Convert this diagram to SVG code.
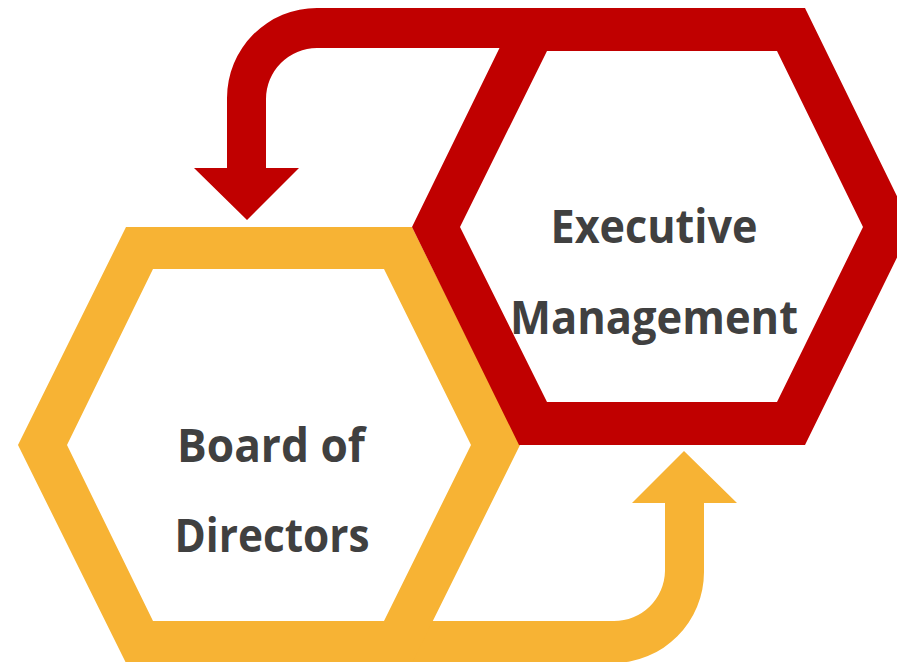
<svg xmlns="http://www.w3.org/2000/svg" width="897" height="662" viewBox="0 0 897 662">
<style>
.red{fill:#C00000}
.yel{fill:#F7B334}
.lbl{font-family:"Open Sans","Noto Sans",sans-serif;font-weight:700;font-size:46px;fill:#404040;text-anchor:middle}
</style>
<rect width="897" height="662" fill="#FFFFFF"/>
<g id="connectors">
<path id="arrow-to-board" class="red" d="M 521 8 L 317 8 A 90 90 0 0 0 227 98 L 227 168 L 194 168 L 247 220 L 299 168 L 266 168 L 266 99 A 51 51 0 0 1 317 48 L 502 48 Z"/>
<path id="arrow-to-exec" class="yel" d="M 410 663 L 613 663 A 91 91 0 0 0 704 572 L 704 503 L 737 503 L 684 451 L 632 503 L 665 503 L 665 571 A 51 51 0 0 1 614 621 L 430 621 Z"/>
</g>
<g id="board">
<path class="yel" fill-rule="evenodd" d="M 18 445 L 126 227 L 412 227 L 520 445 L 412 663 L 126 663 Z M 67 445 L 153 269 L 384 269 L 471 445 L 384 621 L 153 621 Z"/>
<text class="lbl" x="271" y="462" textLength="188" lengthAdjust="spacingAndGlyphs">Board of</text>
<text class="lbl" x="272" y="552" textLength="195" lengthAdjust="spacingAndGlyphs">Directors</text>
</g>
<g id="executive">
<path class="red" fill-rule="evenodd" d="M 412 227 L 519 8 L 805 8 L 912 227 L 805 445 L 519 445 Z M 460 227 L 547 51 L 777 51 L 863 227 L 777 402 L 547 402 Z"/>
<text class="lbl" x="654" y="243" textLength="207" lengthAdjust="spacingAndGlyphs">Executive</text>
<text class="lbl" x="654" y="334" textLength="288" lengthAdjust="spacingAndGlyphs">Management</text>
</g>
</svg>
